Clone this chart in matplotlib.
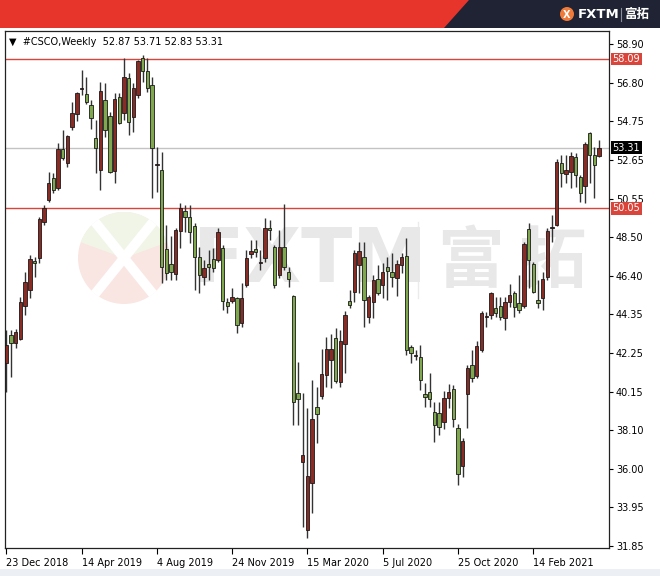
import matplotlib
matplotlib.use('Agg')
import matplotlib.pyplot as plt
from matplotlib.patches import Polygon, Circle, Wedge, Rectangle
import numpy as np

plt.rcParams['font.family'] = ['DejaVu Sans', 'Noto Sans CJK SC']

# weekly candles, 23 Dec 2018 .. end of May 2021
opens = [41.71, 43.22, 42.79, 42.99, 44.78, 45.65, 47.22, 47.37, 49.33, 50.49,
         51.70, 51.13, 53.23, 52.47, 54.41, 55.11, 56.46, 56.19, 55.61, 53.85,
         52.11, 55.88, 55.04, 52.07, 56.06, 55.17, 57.05, 54.98, 56.15, 58.13,
         57.45, 56.69, 52.36, 52.11, 47.84, 47.03, 46.51, 48.83, 49.90, 49.60,
         49.11, 47.41, 46.36, 47.03, 47.30, 47.26, 47.89, 44.98, 45.07, 45.20,
         43.85, 45.92, 47.60, 47.85, 47.10, 47.35, 49.00, 47.98, 46.45, 47.95,
         46.63, 45.32, 40.11, 36.40, 32.72, 35.23, 39.36, 39.95, 41.07, 41.87,
         43.04, 40.67, 42.74, 45.05, 45.55, 47.00, 47.41, 44.21, 45.02, 46.22,
         45.92, 46.90, 46.63, 46.28, 47.00, 47.48, 42.59, 42.10, 42.05, 40.04,
         40.17, 39.09, 39.04, 38.52, 39.81, 40.31, 38.23, 36.18, 40.03, 41.61,
         41.03, 42.41, 44.20, 44.30, 44.66, 44.78, 44.12, 45.02, 45.50, 44.96,
         44.78, 48.92, 47.05, 45.11, 45.20, 46.33, 48.98, 49.13, 52.51, 51.88,
         52.02, 52.79, 51.75, 51.25, 54.12, 52.92, 52.87]
highs = [43.49, 43.49, 43.54, 45.27, 46.62, 47.53, 47.44, 49.60, 50.23, 52.02,
         51.97, 53.55, 54.27, 53.99, 55.79, 56.33, 57.50, 57.14, 55.88, 54.81,
         56.87, 56.78, 55.25, 56.24, 56.28, 58.13, 57.32, 56.78, 58.04, 58.31,
         58.13, 57.14, 53.37, 53.10, 49.15, 48.53, 48.97, 50.32, 50.23, 50.23,
         49.24, 47.98, 47.26, 47.80, 47.89, 48.97, 48.07, 45.20, 45.74, 45.29,
         46.01, 47.80, 48.34, 48.34, 47.80, 49.51, 49.42, 48.07, 48.88, 50.28,
         46.90, 45.38, 41.78, 40.08, 39.27, 40.80, 40.44, 42.45, 43.13, 43.28,
         43.58, 43.49, 44.53, 45.65, 47.80, 48.25, 48.25, 45.38, 46.45, 47.00,
         47.08, 47.44, 47.62, 47.26, 47.66, 48.43, 42.68, 42.41, 42.68, 40.62,
         41.16, 39.63, 39.63, 40.20, 40.57, 40.53, 38.41, 37.66, 41.61, 42.41,
         42.90, 44.51, 44.48, 45.56, 45.25, 45.29, 45.29, 45.97, 45.61, 46.45,
         48.25, 49.27, 47.17, 46.18, 46.63, 48.97, 49.69, 52.69, 52.92, 52.92,
         53.10, 53.01, 51.84, 53.64, 54.18, 53.33, 53.71]
lows = [40.15, 40.96, 42.52, 42.95, 44.30, 45.21, 46.36, 47.10, 49.15, 50.40,
        50.89, 51.03, 52.65, 52.26, 54.27, 54.77, 56.15, 55.65, 54.32, 51.93,
        51.03, 53.91, 51.97, 51.39, 54.59, 54.81, 53.99, 54.18, 55.97, 56.87,
        56.33, 50.60, 50.94, 46.01, 46.19, 46.19, 46.19, 47.89, 48.79, 48.16,
        45.65, 45.47, 45.92, 46.19, 46.63, 47.17, 44.57, 44.39, 44.93, 43.31,
        43.67, 45.83, 47.35, 47.44, 46.72, 47.17, 48.34, 45.74, 46.28, 46.72,
        45.83, 38.37, 38.37, 32.89, 32.27, 33.61, 37.39, 39.76, 40.44, 40.35,
        40.65, 40.44, 41.19, 44.66, 45.02, 45.47, 43.67, 43.85, 44.12, 45.38,
        45.20, 45.11, 45.83, 45.32, 46.58, 42.14, 41.70, 41.87, 40.26, 39.36,
        39.36, 37.48, 37.84, 38.16, 39.27, 38.28, 35.14, 35.59, 38.19, 40.71,
        40.92, 42.32, 43.67, 44.07, 44.21, 44.03, 43.49, 44.75, 44.21, 44.39,
        44.66, 45.74, 45.50, 44.66, 44.57, 46.19, 48.25, 49.09, 51.21, 51.39,
        51.12, 51.21, 50.40, 50.32, 51.43, 50.58, 52.83]
closes = [42.68, 42.79, 43.38, 44.99, 46.08, 47.32, 47.08, 49.47, 50.06, 51.43,
          51.03, 53.24, 52.74, 53.96, 55.17, 56.24, 56.55, 55.76, 54.90, 53.28,
          56.38, 54.27, 52.02, 55.92, 54.66, 57.14, 54.71, 56.51, 57.98, 57.45,
          56.51, 53.28, 52.40, 46.90, 46.55, 46.63, 48.88, 50.05, 49.60, 48.79,
          47.44, 46.45, 46.81, 46.87, 46.82, 48.79, 45.07, 44.78, 45.28, 43.76,
          45.24, 47.39, 47.75, 47.70, 47.14, 48.97, 48.88, 45.92, 47.98, 46.90,
          46.22, 39.63, 39.75, 36.76, 35.63, 38.68, 38.97, 41.12, 42.45, 42.45,
          40.76, 42.91, 44.30, 44.83, 47.66, 47.75, 45.11, 45.29, 46.18, 45.50,
          46.63, 46.68, 46.36, 47.05, 47.41, 42.41, 42.24, 42.12, 40.80, 39.87,
          39.76, 38.37, 38.29, 39.81, 40.13, 38.70, 35.72, 37.51, 41.43, 40.92,
          42.64, 44.39, 44.22, 45.47, 44.42, 44.17, 45.02, 45.38, 44.75, 44.57,
          48.12, 47.26, 45.56, 44.96, 46.22, 48.83, 49.05, 52.56, 51.93, 52.11,
          52.87, 51.84, 50.86, 53.51, 52.92, 52.38, 53.31]

x_label_pos = [0, 16, 32, 48, 64, 80, 96, 112]
x_labels = ['23 Dec 2018', '14 Apr 2019', '4 Aug 2019', '24 Nov 2019',
            '15 Mar 2020', '5 Jul 2020', '25 Oct 2020', '14 Feb 2021']
y_ticks = [58.90, 56.80, 54.75, 52.65, 50.55, 48.50, 46.40, 44.35,
           42.25, 40.15, 38.10, 36.00, 33.95, 31.85]
levels = [58.09, 50.05]
last_price = 53.31
header = '#CSCO,Weekly  52.87 53.71 52.83 53.31'

UP = '#8a2b24'
DOWN = '#7fa84c'
LEVEL = '#d9453a'

fig = plt.figure(figsize=(6.6, 5.76), dpi=100)

# background layer in pixel coordinates
bg = fig.add_axes([0, 0, 1, 1], zorder=0)
bg.set_xlim(0, 660)
bg.set_ylim(576, 0)
bg.axis('off')
bg.add_patch(Rectangle((0, 0), 660, 28, color='#e8352b', lw=0))
bg.add_patch(Polygon([(469, 0), (660, 0), (660, 28), (444, 28)], color='#1f2333', lw=0))
bg.add_patch(Rectangle((0, 569), 660, 7, color='#eceff3', lw=0))

# top-right brand
bg.add_patch(Circle((567, 14), 7, color='#f07a3a', lw=0))
bg.text(567, 14.5, 'X', color='white', fontsize=7, fontweight='bold', ha='center', va='center')
bg.text(578, 14.5, 'FXTM', color='white', fontsize=9.5, fontweight='bold', va='center')
bg.plot([621, 621], [8, 21], color='#8a8d99', lw=0.8)
bg.text(624, 14.5, '富拓', color='white', fontsize=9, fontweight='bold', va='center',
        family=['Noto Sans CJK SC'])

# watermark
bg.add_patch(Circle((124, 258), 46, color='#f9e6e3', lw=0))
bg.add_patch(Wedge((124, 258), 46, 200, 340, color='#f1f5e8', lw=0))
bg.plot([95, 153], [222, 294], color='white', lw=7, solid_capstyle='butt')
bg.plot([153, 95], [222, 294], color='white', lw=7, solid_capstyle='butt')
bg.text(192, 262, 'FXTM', color='#e8e8e8', fontsize=54, fontweight='bold', va='center')
bg.plot([418, 418], [222, 298], color='#ebebeb', lw=1)
bg.text(438, 262, '富 拓', color='#e8e8e8', fontsize=48, fontweight='bold', va='center',
        family=['Noto Sans CJK SC'])

# chart
ax = fig.add_axes([5 / 660, 28 / 576, 604 / 660, 517 / 576], zorder=1)
ax.set_facecolor('none')

o = np.array(opens)
h = np.array(highs)
l = np.array(lows)
c = np.array(closes)
xs = np.arange(len(o))
cols = np.where(c >= o, UP, DOWN)

ax.axhline(levels[0], color=LEVEL, lw=1, zorder=1)
ax.axhline(levels[1], color=LEVEL, lw=1, zorder=1)
ax.axhline(last_price, color='#c3c3c3', lw=1, zorder=1)

ax.vlines(xs, l, h, color='#333333', lw=1, zorder=2)
ax.bar(xs, np.maximum(np.abs(c - o), 0.05), bottom=np.minimum(o, c), width=0.72,
       color=cols, edgecolor='#1a1a1a', linewidth=0.6, zorder=3)

ax.set_xlim(-0.28, 128.1)
ax.set_ylim(31.745, 59.60)

ax.yaxis.tick_right()
ax.set_yticks(y_ticks)
ax.set_yticklabels(['%.2f' % v for v in y_ticks], fontsize=7)
ax.set_xticks(x_label_pos)
ax.set_xticklabels(x_labels, fontsize=7, ha='left')
ax.tick_params(axis='y', length=3, width=0.8, pad=2)
ax.tick_params(axis='x', length=4, width=0.8, pad=3)
for s in ax.spines.values():
    s.set_color('#222222')
    s.set_linewidth(0.9)

yt = ax.get_yaxis_transform()
for v in levels:
    ax.text(1.006, v, '%.2f' % v, transform=yt, fontsize=7, color='white', va='center',
            ha='left', bbox=dict(boxstyle='square,pad=0.15', fc=LEVEL, ec='none'), zorder=5,
            clip_on=False)
ax.text(1.006, last_price, '%.2f' % last_price, transform=yt, fontsize=7, color='white',
        va='center', ha='left', bbox=dict(boxstyle='square,pad=0.15', fc='black', ec='none'),
        zorder=5, clip_on=False)

ax.text(0.006, 0.988, '\u25bc  ' + header, transform=ax.transAxes, fontsize=7, va='top')

fig.savefig('out.png', dpi=100)
